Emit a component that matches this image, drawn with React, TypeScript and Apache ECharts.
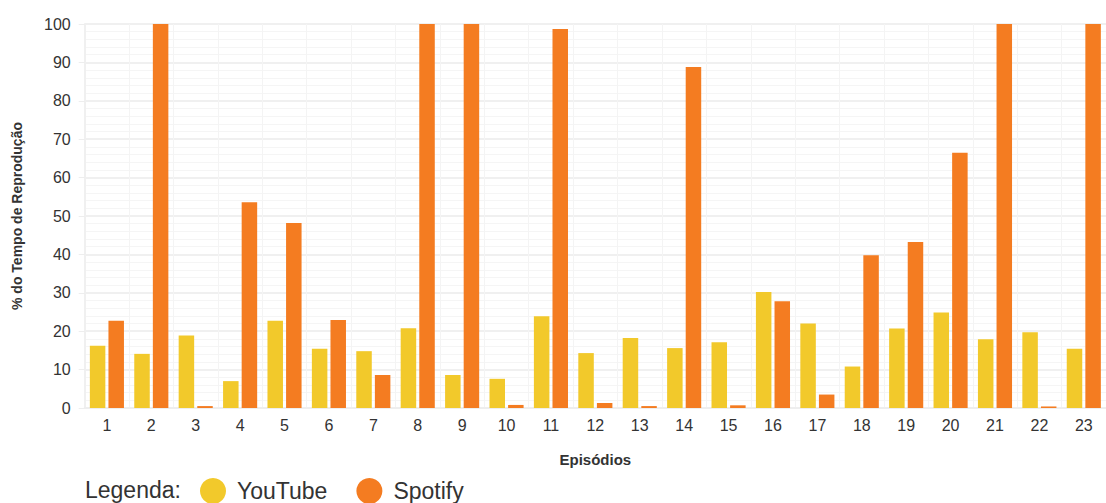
import React, { useEffect, useRef } from "react";
import * as echarts from "echarts";

const episodes = ["1","2","3","4","5","6","7","8","9","10","11","12","13","14","15","16","17","18","19","20","21","22","23"];
const youtube = [16.2, 14.1, 18.9, 7.0, 22.7, 15.4, 14.8, 20.8, 8.6, 7.6, 23.9, 14.3, 18.2, 15.6, 17.1, 30.2, 22.0, 10.8, 20.7, 24.9, 17.9, 19.7, 15.4];
const spotify = [22.7, 100, 0.5, 53.6, 48.2, 22.9, 8.6, 100, 100, 0.8, 98.7, 1.3, 0.5, 88.8, 0.7, 27.8, 3.5, 39.8, 43.2, 66.5, 100, 0.4, 100];

const FONT = "Helvetica, Arial, 'Liberation Sans', sans-serif";

export default function App() {
  const ref = useRef<HTMLDivElement>(null);
  useEffect(() => {
    if (!ref.current) return;
    const chart = echarts.init(ref.current, undefined, { renderer: "svg" });
    chart.setOption({
      animation: false,
      textStyle: { fontFamily: FONT },
      grid: { left: 84.7, right: -4, top: 24, bottom: 95, containLabel: false },
      legend: {
        left: 200,
        top: 478,
        padding: 0,
        icon: "circle",
        itemWidth: 26,
        itemHeight: 26,
        itemGap: 29,
        textStyle: { fontSize: 23, color: "#333", fontFamily: FONT, padding: [0, 0, 0, 6] },
        data: ["YouTube", "Spotify"],
      },
      graphic: [
        {
          type: "text",
          left: 85,
          top: 478,
          style: { text: "Legenda:", fontSize: 23, fill: "#333", fontFamily: FONT },
        },
      ],
      xAxis: {
        type: "category",
        data: episodes,
        name: "Episódios",
        nameLocation: "middle",
        nameGap: 44,
        nameTextStyle: { fontSize: 15, fontWeight: "bold", color: "#333", fontFamily: FONT },
        axisLine: { show: true, lineStyle: { color: "#eeeeee", width: 2 } },
        axisTick: { show: false },
        axisLabel: { fontSize: 16, color: "#333", margin: 9, fontFamily: FONT },
        splitLine: { show: true, lineStyle: { color: "#f4f4f4", width: 1 } },
      },
      yAxis: {
        type: "value",
        min: 0,
        max: 100,
        interval: 10,
        name: "% do Tempo de Reprodução",
        nameLocation: "middle",
        nameGap: 61,
        nameTextStyle: { fontSize: 14, fontWeight: "bold", color: "#333", fontFamily: FONT },
        axisLine: { show: true, lineStyle: { color: "#f0f0f0", width: 2 } },
        axisTick: { show: true, length: 6, lineStyle: { color: "#eeeeee" } },
        axisLabel: { fontSize: 16, color: "#333", margin: 14, fontFamily: FONT },
        splitLine: { show: true, lineStyle: { color: "#ebebeb", width: 1.5 } },
        minorTick: { show: false, splitNumber: 5 },
        minorSplitLine: { show: true, lineStyle: { color: "#f5f5f5", width: 1 } },
      },
      series: [
        {
          name: "YouTube",
          type: "bar",
          data: youtube,
          itemStyle: { color: "#F2C92B" },
          barWidth: 15.5,
          barGap: "20%",
        },
        {
          name: "Spotify",
          type: "bar",
          data: spotify,
          itemStyle: { color: "#F47C21" },
          barWidth: 15.5,
          barGap: "20%",
        },
      ],
    });
    return () => chart.dispose();
  }, []);
  return (
    <div
      ref={ref}
      style={{ position: "fixed", left: 0, top: 0, width: 1106, height: 503, background: "#fff" }}
    />
  );
}
